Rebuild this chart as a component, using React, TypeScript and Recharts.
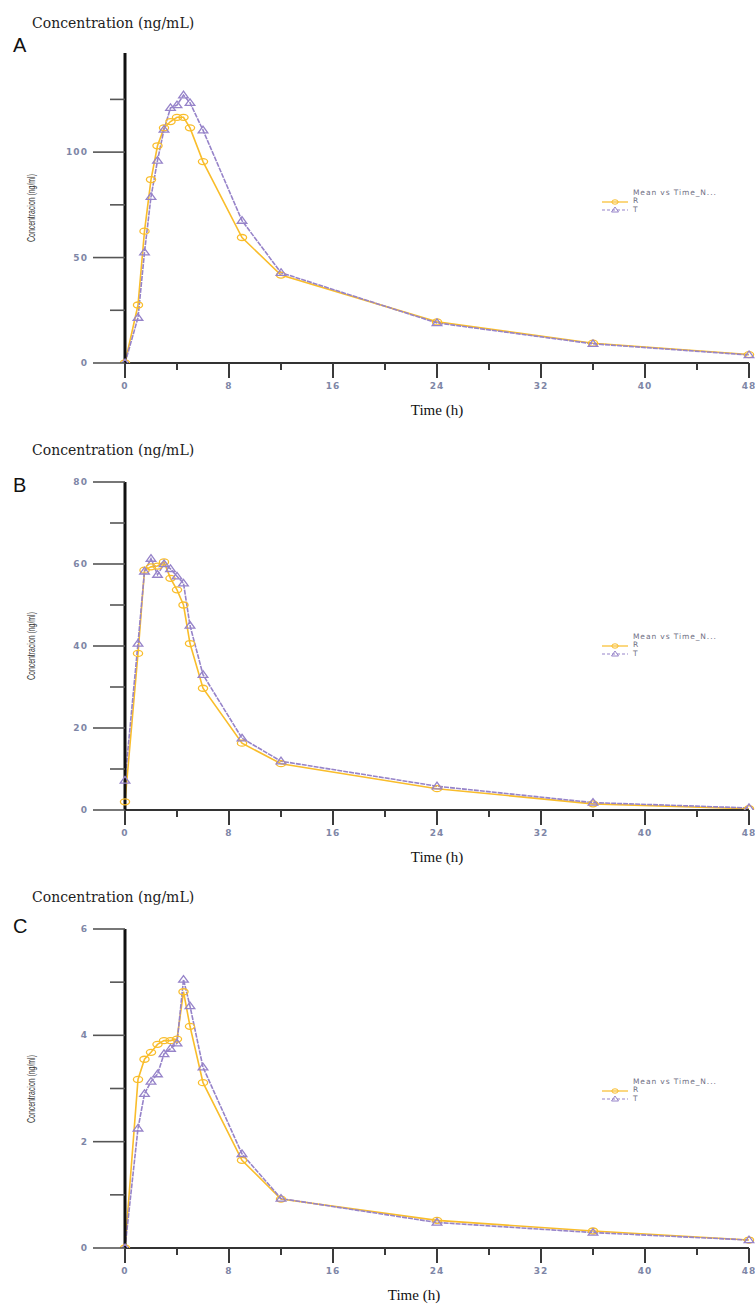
import type { CSSProperties } from "react";
import { Legend, Line, LineChart, XAxis, YAxis } from "recharts";

// sampling times (h), shared by all three panels
const TIME_H = [0, 1, 1.5, 2, 2.5, 3, 3.5, 4, 4.5, 5, 6, 9, 12, 24, 36, 48];

// panel A
const R_A = [0, 27.5, 62.5, 87, 103, 111.5, 114.5, 116.5, 116.5, 111.5, 95.5, 59.5, 41.7, 19.5, 9.4, 4.0];
const T_A = [0, 21.5, 52.5, 78.8, 96, 110.7, 121, 122.3, 127, 123.4, 110.4, 67.5, 42.8, 19, 9.1, 3.8];

// panel B
const R_B = [2, 38.2, 58.5, 59.3, 59.5, 60.5, 56.5, 53.7, 50, 40.6, 29.7, 16.3, 11.3, 5.2, 1.5, 0.3];
const T_B = [7.2, 40.6, 58.2, 61.3, 57.4, 60, 58.8, 57, 55.3, 45, 33, 17.5, 11.9, 5.8, 1.8, 0.5];

// panel C
const R_C = [0, 3.17, 3.55, 3.68, 3.83, 3.9, 3.9, 3.93, 4.82, 4.17, 3.11, 1.65, 0.92, 0.52, 0.32, 0.15];
const T_C = [0, 2.25, 2.9, 3.13, 3.27, 3.65, 3.75, 3.85, 5.05, 4.55, 3.4, 1.77, 0.93, 0.48, 0.29, 0.15];

const X_TICKS = [0, 4, 8, 12, 16, 20, 24, 28, 32, 36, 40, 44, 48];
const X_LABELED = [0, 8, 16, 24, 32, 40, 48];

const Y_TICKS_A = [0, 25, 50, 75, 100, 125];
const Y_LABELED_A = [0, 50, 100];
const Y_TICKS_B = [0, 10, 20, 30, 40, 50, 60, 70, 80];
const Y_LABELED_B = [0, 20, 40, 60, 80];
const Y_TICKS_C = [0, 1, 2, 3, 4, 5, 6];
const Y_LABELED_C = [0, 2, 4, 6];

const PAGE_TITLE = "Concentration (ng/mL)";
const Y_LABEL = "Concentracion (ng/ml)";
const X_LABEL = "Time (h)";
const LEGEND_TITLE = "Mean vs Time_N...";

const R_COLOR = "#f9bd2b";
const T_COLOR = "#9683c9";

const tickFont: CSSProperties = {
  fontFamily: "DejaVu Sans, sans-serif",
  fontSize: 9,
  fontWeight: 700,
  letterSpacing: 1.1,
  fill: "#7e86a6",
};

function buildRows(r: number[], t: number[]) {
  return TIME_H.map((time, i) => ({ time, R: r[i], T: t[i] }));
}

function CircleDot(props: any) {
  const { cx, cy } = props;
  if (cx == null || cy == null) return null;
  return <ellipse cx={cx} cy={cy} rx={4.6} ry={3} fill="none" stroke={R_COLOR} strokeWidth={1.3} />;
}

function TriangleDot(props: any) {
  const { cx, cy } = props;
  if (cx == null || cy == null) return null;
  return (
    <path
      d={`M${cx},${cy - 4} L${cx + 4.8},${cy + 2.6} L${cx - 4.8},${cy + 2.6} Z`}
      fill="none"
      stroke={T_COLOR}
      strokeWidth={1.3}
    />
  );
}

function TimeTick(props: any) {
  const { x, y, payload } = props;
  const labeled = X_LABELED.includes(payload.value);
  return (
    <g>
      <line x1={x} y1={y} x2={x} y2={y + (labeled ? 15 : 7)} stroke="#3a3a3a" strokeWidth={2} />
      {labeled && (
        <text x={x} y={y + 23} textAnchor="middle" dominantBaseline="central" style={tickFont}>
          {payload.value}
        </text>
      )}
    </g>
  );
}

function makeConcTick(labeledValues: number[]) {
  return function ConcTick(props: any) {
    const { x, y, payload } = props;
    const labeled = labeledValues.includes(payload.value);
    return (
      <g>
        <line x1={x} y1={y} x2={x - (labeled ? 32 : 15)} y2={y} stroke="#555" strokeWidth={1.6} />
        {labeled && (
          <text x={x - 37} y={y} textAnchor="end" dominantBaseline="central" style={tickFont}>
            {payload.value}
          </text>
        )}
      </g>
    );
  };
}

function renderLegend({ payload }: any) {
  return (
    <div
      style={{
        fontFamily: "DejaVu Sans, sans-serif",
        fontSize: 7.5,
        color: "#6f6f84",
        letterSpacing: 0.9,
        lineHeight: "8.5px",
      }}
    >
      <div style={{ paddingLeft: 33, whiteSpace: "nowrap" }}>{LEGEND_TITLE}</div>
      {(payload ?? []).map((entry: any) => (
        <div key={entry.value} style={{ display: "flex", alignItems: "center", height: 8.5 }}>
          <svg width={30} height={8}>
            <line
              x1={2}
              y1={4}
              x2={28}
              y2={4}
              stroke={entry.color}
              strokeWidth={1.2}
              strokeDasharray={entry.value === "T" ? "3 2" : undefined}
            />
            {entry.value === "T" ? (
              <path d="M15,1 L18.5,6 L11.5,6 Z" fill="none" stroke={entry.color} strokeWidth={1} />
            ) : (
              <ellipse cx={15} cy={4} rx={3.2} ry={2.2} fill="none" stroke={entry.color} strokeWidth={1} />
            )}
          </svg>
          <span style={{ marginLeft: 3 }}>{entry.value}</span>
        </div>
      ))}
    </div>
  );
}

type PanelProps = {
  letter: string;
  top: number;
  height: number;
  plotTop: number;
  plotBottom: number;
  titleY: number;
  letterY: number;
  legendY: number;
  timeX: number;
  r: number[];
  t: number[];
  yMax: number;
  yTicks: number[];
  yLabeled: number[];
};

function Panel(p: PanelProps) {
  const data = buildRows(p.r, p.t);
  const ConcTick = makeConcTick(p.yLabeled);
  return (
    <>
      <div
        style={{
          position: "absolute",
          left: 32,
          top: p.titleY - 9,
          fontFamily: "DejaVu Serif, serif",
          fontSize: 14,
          lineHeight: "18px",
          color: "#222",
          whiteSpace: "nowrap",
        }}
      >
        {PAGE_TITLE}
      </div>
      <div
        style={{
          position: "absolute",
          left: 13,
          top: p.letterY - 11,
          fontFamily: "Liberation Sans, Arial, sans-serif",
          fontSize: 20,
          lineHeight: "22px",
          color: "#111",
        }}
      >
        {p.letter}
      </div>
      <div
        style={{
          position: "absolute",
          left: 32,
          top: (p.plotTop + p.plotBottom) / 2,
          transform: "translate(-50%, -50%) rotate(-90deg) scale(0.69, 1)",
          fontFamily: "Liberation Sans, Arial, sans-serif",
          fontSize: 10,
          lineHeight: "12px",
          color: "#333",
          whiteSpace: "nowrap",
        }}
      >
        {Y_LABEL}
      </div>
      <div
        style={{
          position: "absolute",
          left: p.timeX,
          top: p.plotBottom + 47,
          transform: "translate(-50%, -50%)",
          fontFamily: "Liberation Serif, serif",
          fontSize: 15,
          lineHeight: "18px",
          color: "#111",
          whiteSpace: "nowrap",
        }}
      >
        {X_LABEL}
      </div>
      <div style={{ position: "absolute", left: 0, top: p.top }}>
        <LineChart
          width={755}
          height={p.height}
          data={data}
          margin={{ top: p.plotTop - p.top, right: 6, bottom: 0, left: 0 }}
        >
          <XAxis
            dataKey="time"
            type="number"
            domain={[0, 48]}
            ticks={X_TICKS}
            interval={0}
            height={p.height - (p.plotBottom - p.top)}
            tickSize={0}
            tickMargin={0}
            tickLine={false}
            axisLine={{ stroke: "#333", strokeWidth: 2 }}
            tick={TimeTick}
          />
          <YAxis
            type="number"
            domain={[0, p.yMax]}
            ticks={p.yTicks}
            interval={0}
            width={125}
            tickSize={0}
            tickMargin={0}
            tickLine={false}
            axisLine={{ stroke: "#111", strokeWidth: 3 }}
            tick={ConcTick}
            allowDataOverflow
          />
          <Legend
            layout="vertical"
            align="center"
            verticalAlign="middle"
            content={renderLegend}
            wrapperStyle={{ left: 600, top: p.legendY - p.top - 4.25, width: 150 }}
          />
          <Line
            dataKey="R"
            name="R"
            stroke={R_COLOR}
            strokeWidth={1.6}
            dot={CircleDot}
            activeDot={false}
            isAnimationActive={false}
          />
          <Line
            dataKey="T"
            name="T"
            stroke={T_COLOR}
            strokeWidth={1.6}
            strokeDasharray="5 1"
            dot={TriangleDot}
            activeDot={false}
            isAnimationActive={false}
          />
        </LineChart>
      </div>
    </>
  );
}

export default function App() {
  return (
    <div
      style={{
        position: "absolute",
        left: 0,
        top: 0,
        width: 755,
        height: 1307,
        background: "#fff",
        overflow: "hidden",
      }}
    >
      <Panel
        letter="A"
        top={0}
        height={430}
        plotTop={53}
        plotBottom={363}
        titleY={23}
        letterY={45}
        legendY={193}
        timeX={437}
        r={R_A}
        t={T_A}
        yMax={147}
        yTicks={Y_TICKS_A}
        yLabeled={Y_LABELED_A}
      />
      <Panel
        letter="B"
        top={430}
        height={450}
        plotTop={482}
        plotBottom={810}
        titleY={450}
        letterY={485}
        legendY={637}
        timeX={437}
        r={R_B}
        t={T_B}
        yMax={80}
        yTicks={Y_TICKS_B}
        yLabeled={Y_LABELED_B}
      />
      <Panel
        letter="C"
        top={880}
        height={427}
        plotTop={929}
        plotBottom={1248}
        titleY={897}
        letterY={926}
        legendY={1082}
        timeX={414}
        r={R_C}
        t={T_C}
        yMax={6}
        yTicks={Y_TICKS_C}
        yLabeled={Y_LABELED_C}
      />
    </div>
  );
}
